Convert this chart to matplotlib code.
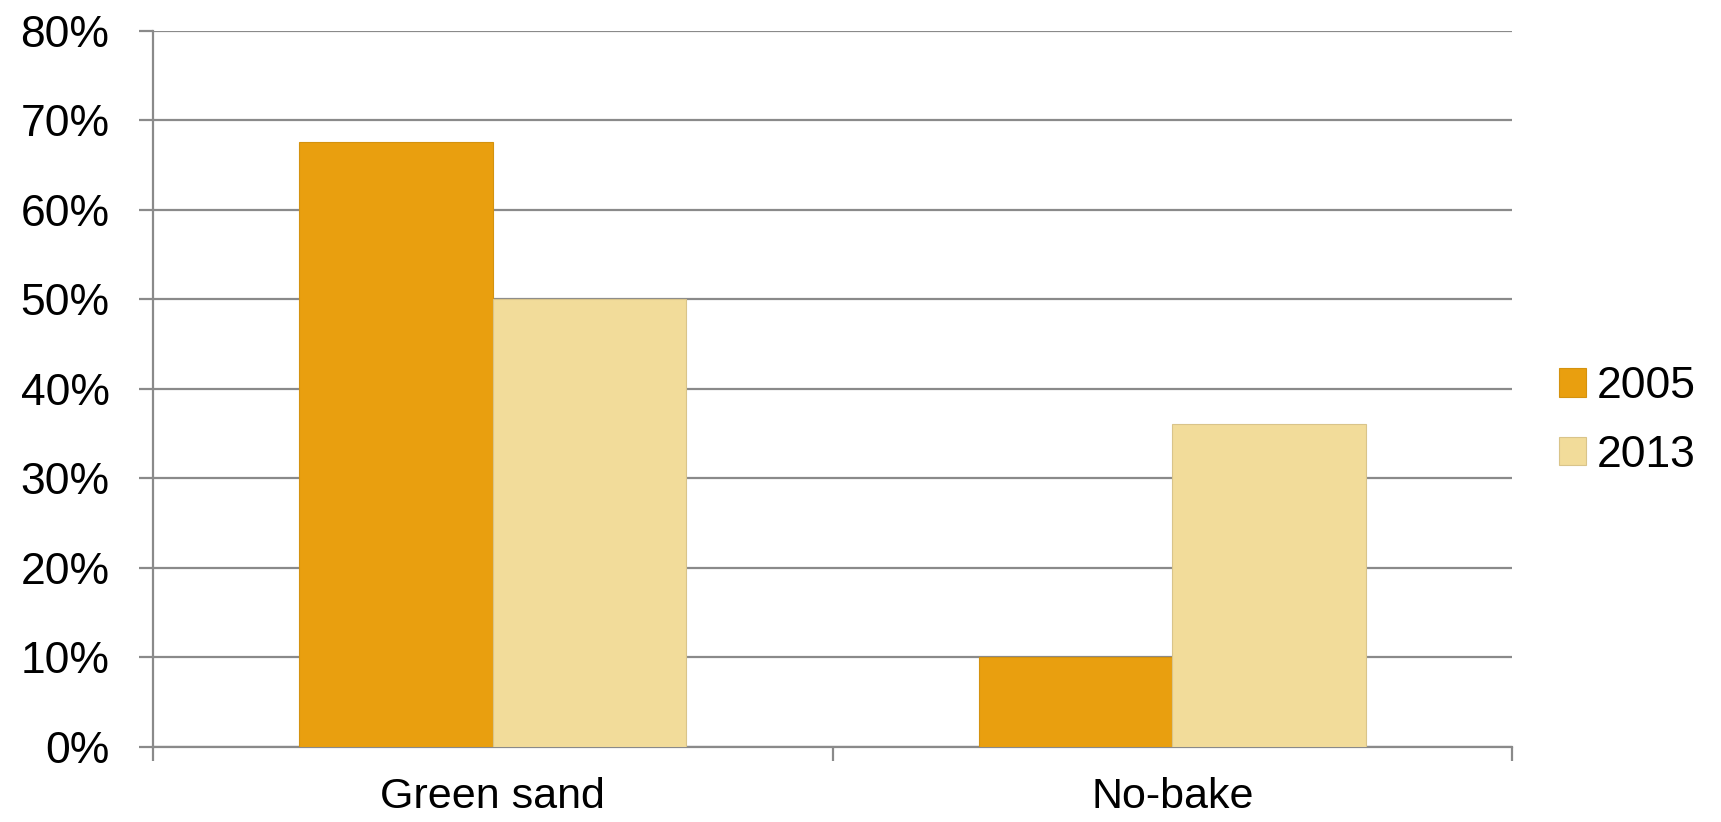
import numpy as np
import matplotlib
matplotlib.use('Agg')
import matplotlib.pyplot as plt
from matplotlib.ticker import PercentFormatter

# data
categories = ['Green sand', 'No-bake']
years = ['2005', '2013']
share_2005 = [67.6, 10.0]
share_2013 = [50.0, 36.0]

colors = ['#E99F0F', '#F2DC9A']
edges = ['#D4920F', '#D9C48A']
grid_col = '#8A8A8A'

plt.rcParams['font.family'] = ['Liberation Sans', 'DejaVu Sans']

fig = plt.figure(figsize=(17.21, 8.22), dpi=100)
ax = fig.add_axes([0.0887, 0.0916, 0.7901, 0.8711])

x = np.arange(len(categories))
w = 0.285
ax.bar(x - w / 2, share_2005, w, color=colors[0], edgecolor=edges[0],
       linewidth=0.8, label=years[0], zorder=3)
ax.bar(x + w / 2, share_2013, w, color=colors[1], edgecolor=edges[1],
       linewidth=0.8, label=years[1], zorder=3)

ax.set_xlim(-0.5, 1.5)
ax.set_ylim(0, 80)
ax.set_yticks(np.arange(0, 81, 10))
ax.yaxis.set_major_formatter(PercentFormatter(decimals=0))
ax.grid(axis='y', color=grid_col, linewidth=1.6, zorder=0)

# category labels in the middle, tick marks at the boundaries
ax.set_xticks([-0.5, 0.5, 1.5])
ax.set_xticklabels([])
ax.set_xticks(x, minor=True)
ax.set_xticklabels(categories, minor=True)
ax.tick_params(axis='x', which='major', length=10, width=1.6, color=grid_col)
ax.tick_params(axis='x', which='minor', length=0, pad=22, labelsize=31)
ax.tick_params(axis='y', length=10, width=1.6, color=grid_col, pad=21, labelsize=32)

for s in ['top', 'right']:
    ax.spines[s].set_visible(False)
for s in ['left', 'bottom']:
    ax.spines[s].set_color(grid_col)
    ax.spines[s].set_linewidth(1.6)

fig.legend(loc='center left', bbox_to_anchor=(0.906, 0.488), frameon=False,
           fontsize=32, borderpad=0, borderaxespad=0, handlelength=0.6,
           handleheight=0.6, handletextpad=0.25, labelspacing=0.62)

fig.savefig('out.png', dpi=100)
